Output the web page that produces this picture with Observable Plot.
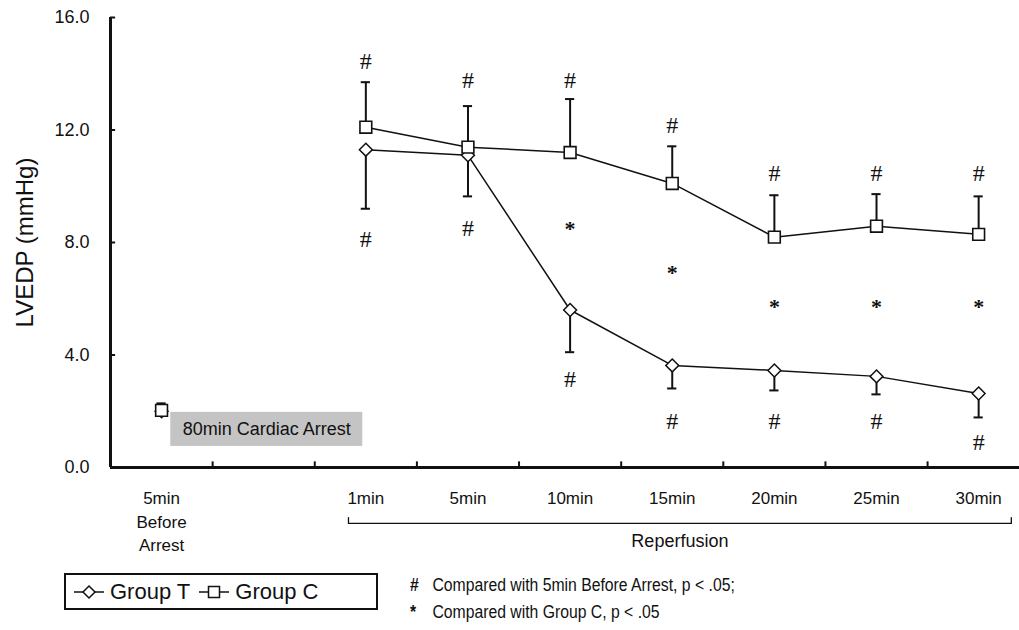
<!DOCTYPE html>
<html>
<head>
<meta charset="utf-8">
<script src="https://cdn.jsdelivr.net/npm/d3@7"></script>
<script src="https://cdn.jsdelivr.net/npm/@observablehq/plot@0.6"></script>
<style>
  html, body { margin: 0; padding: 0; background: #fff; }
  #wrap { position: relative; width: 1019px; height: 630px; font-family: "Liberation Sans", Arial, sans-serif; color: #111; }
  #legend { position: absolute; left: 64px; top: 573px; width: 310px; height: 33px; border: 2.5px solid #111;
            display: flex; align-items: center; font-size: 22px; white-space: nowrap; }
  #legend svg { display: block; }
  #notes { position: absolute; left: 410px; top: 572px; font-size: 17.5px; line-height: 27px; transform: scaleX(0.9); transform-origin: left top; white-space: nowrap; }
  #notes b { display: inline-block; width: 20px; }
</style>
</head>
<body>
<div id="wrap">
  <div id="chart"></div>
  <div id="legend"></div>
  <div id="notes">
    <div><b>#</b> Compared with 5min Before Arrest, p &lt; .05;</div>
    <div><b>*</b> Compared with Group C, p &lt; .05</div>
  </div>
</div>
<script>
// ---- data ----
const categories = ["5min\nBefore\nArrest", "", "1min", "5min", "10min", "15min", "20min", "25min", "30min"];
const timeIndex = [0, 2, 3, 4, 5, 6, 7, 8];           // positions carrying measurements
const groupTMean = [2.0, 11.3, 11.1, 5.6, 3.63, 3.45, 3.24, 2.63];
const groupTSD   = [0.15, 2.1, 1.46, 1.5, 0.82, 0.71, 0.64, 0.85];
const groupCMean = [2.03, 12.1, 11.39, 11.2, 10.1, 8.19, 8.58, 8.29];
const groupCSD   = [0.25, 1.6, 1.46, 1.9, 1.32, 1.49, 1.14, 1.35];
const hashAboveC = [14.45, 13.77, 13.77, 12.17, 10.46, 10.46, 10.46];  // reperfusion 1..30min
const hashBelowT = [8.11, 8.5, 3.13, 1.64, 1.64, 1.64, 0.89];
const starIndex  = [4, 5, 6, 7, 8];
const starY      = [8.65, 7.08, 5.87, 5.87, 5.87];
const yTicks = [0, 4, 8, 12, 16];
const arrestLabel = "80min Cardiac Arrest";
const arrestBox = {x1: 0.09, x2: 1.97, y1: 0.75, y2: 1.96};
const repLabel = "Reperfusion";

// ---- tables ----
const rows = [];
timeIndex.forEach((x, i) => {
  rows.push({group: "T", x, mean: groupTMean[i], end: groupTMean[i] - groupTSD[i]});
  rows.push({group: "C", x, mean: groupCMean[i], end: groupCMean[i] + groupCSD[i]});
});
const T = rows.filter(d => d.group === "T");
const C = rows.filter(d => d.group === "C");
const repT = T.filter(d => d.x >= 2), repC = C.filter(d => d.x >= 2);
const repIdx = timeIndex.filter(x => x >= 2);
const hashes = [
  ...repIdx.map((x, i) => ({x, y: hashAboveC[i]})),
  ...repIdx.map((x, i) => ({x, y: hashBelowT[i]}))
];
const stars = starIndex.map((x, i) => ({x, y: starY[i]}));
const boundaries = d3.range(0.5, categories.length - 1, 1);
const xLabels = categories.map((c, i) => ({x: i, label: c})).filter(d => d.label);
const repStart = repIdx[0], repEnd = repIdx[repIdx.length - 1];
const bracketY = -1.99, bracketTop = -1.78;
const bracket = [
  {x: repStart - 0.17, y: bracketTop}, {x: repStart - 0.17, y: bracketY},
  {x: repEnd + 0.32, y: bracketY}, {x: repEnd + 0.32, y: bracketTop}
];
const cap = 0.045;
const sans = "Liberation Sans, Arial, sans-serif";
const serif = "Liberation Serif, Times New Roman, serif";

const chart = Plot.plot({
  width: 1019,
  height: 560,
  marginLeft: 110,
  marginRight: 0,
  marginTop: 17,
  marginBottom: 93,
  style: {fontFamily: sans, color: "#111", background: "#fff"},
  x: {domain: [-0.5, 8.4], axis: null},
  y: {domain: [0, 16], axis: null},
  marks: [
    // arrest box
    Plot.rect([arrestBox], {x1: "x1", x2: "x2", y1: "y1", y2: "y2", fill: "#c4c4c4"}),
    Plot.text([arrestLabel], {x: (arrestBox.x1 + arrestBox.x2) / 2, y: (arrestBox.y1 + arrestBox.y2) / 2, text: d => d, fontSize: 18, fill: "#111"}),
    // y axis
    Plot.text(yTicks, {x: -0.5, y: d => d, text: d => d.toFixed(1), textAnchor: "end", dx: -21, fontSize: 18, fill: "#111"}),
    Plot.ruleY(yTicks.filter(d => d > 0), {y: d => d, x1: -0.5, x2: -0.45, stroke: "#111", strokeWidth: 2}),
    Plot.text(["LVEDP (mmHg)"], {frameAnchor: "left", textAnchor: "middle", dx: -85, rotate: -90, fontSize: 24, fill: "#111"}),
    // x axis ticks and labels
    Plot.ruleX(boundaries, {x: d => d, y1: 0, y2: 0.2, stroke: "#111", strokeWidth: 2}),
    Plot.text(xLabels, {x: "x", y: 0, text: "label", dy: 20, lineAnchor: "top", lineHeight: 1.38, fontSize: 17, fill: "#111"}),
    Plot.line(bracket, {x: "x", y: "y", stroke: "#111", strokeWidth: 1.3}),
    Plot.text([repLabel], {x: (bracket[0].x + bracket[2].x) / 2, y: bracketY, dy: 18, text: d => d, fontSize: 18, fill: "#111"}),
    // axis lines
    Plot.ruleX([-0.5], {y1: 0, y2: 16, stroke: "#111", strokeWidth: 3}),
    Plot.ruleY([0], {x1: -0.5, x2: 8.4, stroke: "#111", strokeWidth: 3}),
    // series lines
    Plot.line(repT, {x: "x", y: "mean", stroke: "#111", strokeWidth: 1.5}),
    Plot.line(repC, {x: "x", y: "mean", stroke: "#111", strokeWidth: 1.5}),
    // error bars
    Plot.ruleX(rows, {x: "x", y1: "mean", y2: "end", stroke: "#111", strokeWidth: 2}),
    Plot.ruleY(rows, {y: "end", x1: d => d.x - cap, x2: d => d.x + cap, stroke: "#111", strokeWidth: 2}),
    // markers
    Plot.dot(T, {x: "x", y: "mean", symbol: "diamond2", r: 5.8, fill: "white", stroke: "#111", strokeWidth: 1.5}),
    Plot.dot(C, {x: "x", y: "mean", symbol: "square2", r: 7.5, fill: "white", stroke: "#111", strokeWidth: 1.6}),
    // significance marks
    Plot.text(hashes, {x: "x", y: "y", text: () => "#", fontSize: 24, fontFamily: serif, fill: "#111"}),
    Plot.text(stars, {x: "x", y: "y", text: () => "*", fontSize: 22, dy: 5, fontFamily: serif, fontWeight: "bold", fill: "#111"})
  ]
});
document.getElementById("chart").appendChild(chart);

// legend
const sym = (kind) => {
  const s = d3.create("svg").attr("width", 36).attr("height", 22);
  s.append("line").attr("x1", 3).attr("x2", 33).attr("y1", 11).attr("y2", 11).attr("stroke", "#111").attr("stroke-width", 1.5);
  const p = kind === "diamond" ? "M18,5L24,11L18,17L12,11Z" : "M12.5,5.5H23.5V16.5H12.5Z";
  s.append("path").attr("d", p).attr("fill", "white").attr("stroke", "#111").attr("stroke-width", 1.5);
  return s.node();
};
const legend = document.getElementById("legend");
[["diamond", "Group T"], ["square", "Group C"]].forEach(([k, label], i) => {
  const item = document.createElement("div");
  item.style.display = "flex"; item.style.alignItems = "center";
  item.style.marginLeft = i === 0 ? "5px" : "6px";
  item.appendChild(sym(k));
  const span = document.createElement("span");
  span.textContent = label; span.style.marginLeft = "3px";
  item.appendChild(span);
  legend.appendChild(item);
});
</script>
</body>
</html>
